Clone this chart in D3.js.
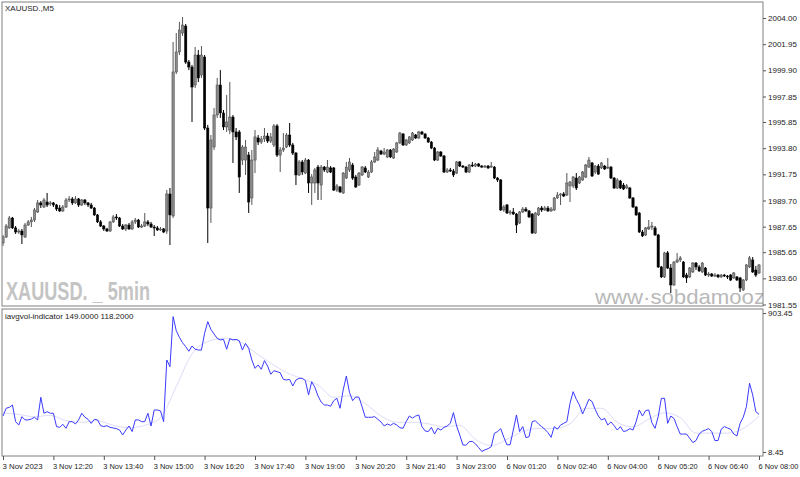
<!DOCTYPE html>
<html><head><meta charset="utf-8">
<script src="https://cdn.jsdelivr.net/npm/d3@7"></script>
<style>html,body{margin:0;padding:0;background:#fff;} svg{display:block;} text{font-family:"Liberation Sans",Arial,sans-serif;}</style>
</head><body><svg id="c" width="800" height="477"></svg>
<script>
// ---- DATA ----
const openP=[1986.37,1986.84,1987.55,1988.33,1987.55,1987.23,1987.31,1986.84,1987.78,1988.02,
1988.17,1988.80,1989.51,1989.19,1989.58,1989.43,1989.51,1989.35,1989.11,1988.88,
1989.19,1989.74,1989.82,1989.51,1989.82,1989.35,1989.74,1989.51,1989.35,1989.11,
1988.57,1988.02,1987.70,1987.47,1987.31,1988.02,1988.41,1988.33,1987.70,1987.47,
1987.78,1987.47,1988.02,1988.17,1987.62,1987.70,1988.02,1987.86,1987.62,1987.55,
1987.39,1987.47,1987.31,1990.21,1988.49,1999.77,2001.34,2002.82,2003.37,2000.55,
2000.16,1998.75,2001.10,1999.53,2000.94,1995.38,1989.11,1993.89,1996.40,1998.75,
1996.56,1995.46,1995.22,1996.24,1995.07,1995.07,1992.87,1992.87,1993.26,1989.90,
1992.87,1994.60,1994.28,1994.52,1994.75,1994.36,1994.05,1995.54,1993.26,1993.66,
1993.89,1994.83,1994.05,1993.42,1991.70,1992.72,1991.85,1992.87,1991.07,1991.07,
1992.32,1990.91,1992.32,1991.93,1992.25,1992.25,1990.52,1990.76,1990.29,1991.46,
1992.09,1992.48,1991.54,1990.91,1991.70,1992.25,1991.54,1991.93,1992.72,1992.87,
1993.58,1993.34,1993.11,1993.66,1993.03,1993.50,1994.21,1994.91,1994.05,1994.21,
1994.44,1994.83,1994.60,1995.07,1994.91,1994.60,1994.28,1993.81,1992.87,1993.50,
1993.19,1991.93,1992.09,1992.01,1991.85,1992.72,1992.40,1992.32,1991.93,1992.48,
1992.40,1992.56,1992.40,1992.32,1992.40,1992.32,1992.32,1991.46,1991.31,1988.96,
1989.35,1988.72,1988.80,1988.64,1987.94,1988.80,1989.03,1988.88,1988.64,1987.15,
1988.57,1989.11,1988.96,1989.11,1988.88,1988.96,1989.90,1990.13,1990.21,1990.13,
1990.84,1990.84,1991.46,1991.07,1991.31,1991.54,1992.32,1992.64,1991.93,1992.40,
1992.25,1992.40,1992.25,1992.32,1991.46,1990.68,1991.23,1990.91,1990.68,1990.68,
1989.90,1989.19,1988.72,1987.23,1987.00,1987.47,1987.62,1987.55,1987.00,1984.49,
1983.71,1985.59,1984.41,1983.08,1984.88,1985.04,1984.88,1983.86,1983.71,1984.10,
1984.80,1984.49,1984.10,1984.41,1983.86,1983.94,1983.78,1983.86,1983.71,1983.86,
1983.78,1983.86,1983.63,1983.71,1983.63,1982.69,1983.47,1984.49,1985.04,1984.25,
1984.02];
const highP=[1987.00,1987.86,1988.49,1988.41,1987.70,1987.47,1987.47,1987.94,1988.17,1988.41,
1989.11,1989.74,1989.66,1989.90,1990.29,1989.66,1989.58,1989.43,1989.35,1989.35,
1989.90,1990.05,1989.97,1990.05,1989.90,1989.82,1989.82,1989.58,1989.51,1989.19,
1988.64,1988.17,1987.78,1987.55,1988.09,1988.57,1988.64,1988.41,1987.86,1987.86,
1987.94,1988.17,1988.33,1988.25,1987.86,1988.72,1988.17,1988.02,1987.78,1987.70,
1987.62,1987.55,1990.52,1990.68,2002.12,2002.82,2003.69,2004.08,2003.53,2000.71,
2000.32,2001.73,2001.49,2001.80,2001.10,1995.62,1994.83,1996.95,1999.30,1999.92,
1996.79,1997.97,1998.98,1996.40,1995.38,1995.22,1994.05,1994.44,1993.50,1993.66,
1995.22,1994.83,1994.75,1995.38,1994.99,1994.99,1995.69,1995.69,1993.89,1994.99,
1994.99,1995.77,1994.21,1993.50,1992.87,1992.87,1993.03,1992.95,1991.77,1992.25,
1992.48,1992.48,1992.40,1992.87,1992.40,1992.32,1990.99,1990.84,1991.93,1992.72,
1993.03,1992.64,1991.70,1991.93,1992.40,1992.40,1992.09,1992.87,1993.50,1993.89,
1993.66,1993.81,1993.73,1993.73,1993.81,1994.28,1995.07,1994.99,1994.52,1994.75,
1995.07,1994.91,1995.15,1995.15,1994.99,1994.68,1994.36,1993.89,1993.58,1993.58,
1993.26,1992.25,1992.25,1992.17,1992.79,1992.79,1992.48,1992.40,1992.56,1992.72,
1992.64,1992.64,1992.48,1992.48,1992.48,1992.72,1992.40,1991.54,1991.38,1989.35,
1989.43,1988.96,1989.11,1988.72,1988.88,1989.19,1989.19,1988.96,1988.72,1988.80,
1989.19,1989.27,1989.27,1989.27,1989.19,1989.97,1990.37,1990.29,1990.37,1991.85,
1991.23,1991.62,1991.85,1991.62,1992.01,1992.56,1993.11,1992.72,1992.48,1992.56,
1992.72,1992.48,1993.03,1992.40,1991.54,1991.46,1991.31,1991.07,1990.99,1990.76,
1989.97,1989.27,1988.80,1987.39,1987.62,1988.17,1988.02,1987.70,1987.08,1984.57,
1985.67,1985.74,1984.72,1984.96,1985.59,1985.35,1984.96,1984.02,1984.49,1984.88,
1984.88,1984.65,1984.88,1984.49,1984.10,1984.02,1984.02,1983.94,1983.94,1983.94,
1983.86,1983.94,1984.10,1983.78,1983.71,1983.55,1984.72,1985.35,1985.27,1984.57,
1984.72];
const lowP=[1986.14,1986.76,1987.47,1987.47,1987.08,1987.08,1986.29,1986.76,1987.70,1987.62,
1988.02,1988.72,1989.11,1989.11,1989.19,1989.27,1989.19,1988.88,1988.80,1988.80,
1989.11,1989.58,1989.35,1989.43,1989.19,1989.27,1989.35,1989.19,1989.03,1988.49,
1987.94,1987.62,1987.31,1987.23,1987.23,1987.94,1988.17,1987.62,1987.39,1987.31,
1987.39,1987.39,1987.86,1987.55,1987.55,1987.62,1987.70,1987.55,1986.92,1987.31,
1987.31,1987.15,1987.08,1986.21,1988.33,1999.61,2001.10,2002.59,2000.40,1999.92,
1995.85,1998.51,1998.98,1999.30,1995.22,1986.37,1987.94,1993.66,1996.17,1996.17,
1995.22,1995.07,1994.91,1992.64,1994.44,1990.29,1992.48,1991.70,1988.72,1989.35,
1991.85,1994.05,1994.13,1994.28,1994.21,1994.21,1993.89,1993.11,1991.93,1993.50,
1993.81,1993.89,1993.26,1990.91,1991.62,1991.70,1991.77,1990.29,1989.35,1990.29,
1989.74,1989.74,1991.93,1991.85,1991.85,1990.44,1990.37,1990.29,1990.21,1991.38,
1991.93,1991.31,1990.68,1990.84,1991.62,1991.85,1991.46,1991.85,1992.64,1992.79,
1993.26,1993.26,1993.03,1993.03,1992.95,1993.42,1994.13,1993.97,1993.97,1994.13,
1994.36,1994.52,1994.52,1994.83,1994.52,1994.21,1993.73,1992.79,1992.79,1993.11,
1991.85,1991.85,1991.93,1991.54,1991.77,1992.32,1992.25,1991.85,1991.85,1992.32,
1992.32,1992.32,1992.25,1992.25,1992.17,1992.25,1991.38,1991.15,1988.88,1988.80,
1988.64,1988.57,1988.57,1987.15,1987.86,1988.72,1988.80,1988.33,1987.08,1987.08,
1988.49,1988.80,1988.88,1988.80,1988.80,1988.88,1989.82,1989.35,1989.97,1990.05,
1989.58,1990.68,1990.52,1990.99,1991.23,1991.46,1992.25,1991.54,1991.77,1991.70,
1992.17,1992.09,1992.17,1991.38,1990.60,1990.60,1990.60,1990.52,1990.60,1989.82,
1989.11,1988.49,1987.15,1986.84,1986.92,1987.39,1987.39,1986.92,1984.41,1983.63,
1983.63,1984.33,1982.45,1983.00,1984.80,1984.88,1983.63,1983.24,1983.63,1984.02,
1984.25,1984.10,1984.02,1983.78,1983.71,1983.71,1983.71,1983.63,1983.63,1983.71,
1983.55,1983.39,1983.55,1983.39,1982.53,1982.61,1983.39,1984.41,1984.02,1983.71,
1983.94];
const closeP=[1986.84,1987.70,1988.33,1987.55,1987.23,1987.31,1987.00,1987.78,1988.02,1988.17,
1988.96,1989.51,1989.35,1989.74,1989.35,1989.51,1989.35,1989.03,1988.88,1989.19,
1989.74,1989.82,1989.51,1989.82,1989.35,1989.74,1989.51,1989.35,1989.11,1988.57,
1988.02,1987.70,1987.47,1987.31,1988.02,1988.41,1988.33,1987.70,1987.47,1987.78,
1987.47,1988.02,1988.17,1987.62,1987.70,1988.02,1987.86,1987.62,1987.55,1987.39,
1987.47,1987.23,1990.21,1988.57,1999.77,2001.34,2003.06,2003.45,2000.55,2000.16,
1998.59,2001.10,1999.30,2001.10,1995.38,1989.11,1994.44,1996.40,1998.75,1996.56,
1995.46,1995.85,1996.24,1995.07,1994.68,1991.54,1993.89,1993.89,1989.58,1992.87,
1994.68,1994.28,1994.52,1994.75,1994.36,1994.68,1995.54,1993.26,1993.66,1993.81,
1994.83,1994.05,1993.42,1991.70,1992.72,1991.93,1992.87,1991.07,1991.54,1992.09,
1991.07,1992.32,1992.09,1992.32,1991.93,1990.52,1990.84,1990.37,1991.85,1992.32,
1992.72,1991.46,1990.76,1991.85,1992.32,1991.93,1991.93,1992.72,1993.11,1993.66,
1993.34,1993.50,1993.66,1993.11,1993.73,1994.21,1994.99,1994.05,1994.44,1994.68,
1994.99,1994.60,1995.07,1994.91,1994.60,1994.28,1993.81,1992.87,1993.50,1993.19,
1991.93,1992.09,1992.01,1991.70,1992.72,1992.40,1992.32,1991.93,1992.48,1992.40,
1992.56,1992.40,1992.32,1992.40,1992.25,1992.40,1991.46,1991.31,1988.96,1989.19,
1988.72,1988.80,1988.64,1987.78,1988.80,1989.03,1988.88,1988.41,1987.15,1988.72,
1989.11,1988.96,1989.11,1988.88,1989.03,1989.90,1990.13,1990.21,1990.05,1991.07,
1991.15,1991.54,1990.68,1991.54,1991.93,1992.48,1992.87,1991.62,1992.40,1991.77,
1992.64,1992.17,1992.32,1991.46,1990.68,1991.31,1990.68,1990.60,1990.84,1989.90,
1989.19,1988.57,1987.23,1986.92,1987.55,1987.62,1987.70,1987.00,1984.49,1983.71,
1985.59,1984.41,1983.08,1984.88,1985.04,1985.20,1983.71,1983.63,1984.41,1984.80,
1984.49,1984.18,1984.80,1983.86,1983.94,1983.78,1983.86,1983.71,1983.86,1983.78,
1983.71,1983.47,1984.02,1983.47,1982.84,1983.47,1984.65,1985.20,1984.10,1983.86,
1984.65];
const volume=[240,290,296,311,204,182,236,215,215,221,
232,215,361,258,268,258,258,172,167,187,
161,204,204,189,215,258,232,219,193,219,
215,178,172,178,167,163,159,150,118,150,
176,140,215,215,204,204,258,176,279,279,
273,204,601,558,880,790,747,712,687,657,
691,670,665,665,773,848,798,768,740,730,
734,670,738,730,734,725,665,708,676,601,
547,569,541,597,562,509,532,526,519,476,
472,476,434,472,483,483,468,376,461,425,
369,330,311,311,303,339,354,290,408,498,
391,339,363,361,300,232,232,232,236,219,
202,176,189,180,193,182,165,161,204,240,
227,240,247,172,144,140,167,124,161,150,
167,176,193,262,176,118,54,52,75,77,
60,37,12,22,30,43,129,140,159,103,
54,56,150,247,140,172,101,107,204,210,
189,172,155,133,103,172,155,182,193,204,
322,397,348,311,253,300,348,333,283,240,
215,225,182,202,178,150,172,140,146,159,
150,204,279,240,275,279,197,161,236,354,
354,193,240,225,172,124,124,124,97,69,
82,124,142,150,159,140,82,82,155,172,
163,155,124,112,193,232,300,451,376,268,
251];
const maBars=[0,5,10,15,20,25,30,35,40,45,50,55,60,65,70,75,80,85,90,95,100,105,110,115,120,125,130,135,140,145,150,155,160,165,170,175,180,185,190,195,200,205,210,215,220,225,230,235,240];
const maVals=[260,250,235,245,210,200,210,180,165,180,230,430,640,720,740,720,650,580,520,480,440,360,370,320,240,200,200,190,170,180,90,50,90,140,160,160,190,290,290,200,170,220,260,230,130,130,130,160,240];
const priceTicks=[2004.00,2001.95,1999.90,1997.85,1995.85,1993.80,1991.75,1989.70,1987.65,1985.65,1983.60,1981.55];
const volTicks=[903.45,8.45];
const timeTickBars=[0,16,32,48,64,80,96,112,128,144,160,176,192,208,224,240];
const timeLabels=["3 Nov 2023","3 Nov 12:20","3 Nov 13:40","3 Nov 15:00","3 Nov 16:20","3 Nov 17:40","3 Nov 19:00","3 Nov 20:20","3 Nov 21:40","3 Nov 23:00","6 Nov 01:20","6 Nov 02:40","6 Nov 04:00","6 Nov 05:20","6 Nov 06:40","6 Nov 08:00"];

// ---- CHART ----
const svg=d3.select("#c");
const L=2,R=763,mTop=2,mBot=306,iTop=309,iBot=456;
const x=d3.scaleLinear().domain([0,240]).range([3,759]);
const y=d3.scaleLinear().domain([1981.55,2004.00]).range([304.5,18]);
const yv=d3.scaleLinear().domain([8.45,903.45]).range([452,313]);

const defs=svg.append("defs");
defs.append("clipPath").attr("id","cm").append("rect").attr("x",L).attr("y",mTop).attr("width",R-L).attr("height",mBot-mTop);
defs.append("clipPath").attr("id","ci").append("rect").attr("x",L).attr("y",iTop).attr("width",R-L).attr("height",iBot-iTop);

// watermarks
const wm=svg.append("g").attr("clip-path","url(#cm)");
wm.append("text").attr("x",6).attr("y",300).attr("font-size",25).attr("font-weight","bold")
  .attr("fill","#c4c4c4").attr("textLength",144).attr("lengthAdjust","spacingAndGlyphs").text("XAUUSD. _ 5min");
wm.append("text").attr("x",595).attr("y",304).attr("font-size",21)
  .attr("fill","#b8b8b8").attr("textLength",170).attr("lengthAdjust","spacingAndGlyphs").text("www·sobdamooz");

// candles
const data=openP.map((o,i)=>({i,o,h:highP[i],l:lowP[i],c:closeP[i]}));
const cg=svg.append("g").attr("clip-path","url(#cm)");
const bw=2.3;
cg.selectAll("line.w").data(data).join("line").attr("class","w")
  .attr("x1",d=>x(d.i)).attr("x2",d=>x(d.i)).attr("y1",d=>y(d.h)).attr("y2",d=>y(d.l))
  .attr("stroke",d=>d.c>=d.o?"#555":"#000").attr("stroke-width",1);
cg.selectAll("rect.b").data(data).join("rect").attr("class","b")
  .attr("x",d=>x(d.i)-bw/2).attr("width",bw)
  .attr("y",d=>y(Math.max(d.o,d.c))).attr("height",d=>Math.max(1,Math.abs(y(d.o)-y(d.c))))
  .attr("fill",d=>d.c>=d.o?"#8a8a8a":"#000")
  .attr("stroke",d=>d.c>=d.o?"#444":"#000").attr("stroke-width",0.5);

// indicator
const ig=svg.append("g").attr("clip-path","url(#ci)");
ig.append("path").datum(maBars.map((b,k)=>[b,maVals[k]]))
  .attr("d",d3.line().x(d=>x(d[0])).y(d=>yv(d[1])).curve(d3.curveMonotoneX))
  .attr("fill","none").attr("stroke","#dcdcf8").attr("stroke-width",1);
ig.append("path").datum(volume)
  .attr("d",d3.line().x((d,i)=>x(i)).y(d=>yv(d)))
  .attr("fill","none").attr("stroke","#3a3aff").attr("stroke-width",1);

// frames
svg.append("rect").attr("x",L).attr("y",mTop).attr("width",R-L).attr("height",mBot-mTop).attr("fill","none").attr("stroke","#808080");
svg.append("rect").attr("x",L).attr("y",iTop).attr("width",R-L).attr("height",iBot-iTop).attr("fill","none").attr("stroke","#808080");

// axes
function styleAxis(g){g.select(".domain").remove();g.selectAll("line").attr("stroke","#555");g.selectAll("text").attr("fill","#222").attr("font-size",8).attr("font-family","Liberation Sans, Arial, sans-serif");}
svg.append("g").attr("transform",`translate(${R},0)`)
  .call(d3.axisRight(y).tickValues(priceTicks).tickFormat(d3.format(".2f")).tickSize(3).tickPadding(2)).call(styleAxis);
svg.append("g").attr("transform",`translate(${R},0)`)
  .call(d3.axisRight(yv).tickValues(volTicks).tickFormat(d3.format(".2f")).tickSize(3).tickPadding(2)).call(styleAxis);
const xa=svg.append("g").attr("transform",`translate(0,${iBot})`)
  .call(d3.axisBottom(x).tickValues(timeTickBars).tickFormat((d,k)=>timeLabels[k]).tickSize(4).tickPadding(2)).call(styleAxis);
xa.selectAll("text").attr("text-anchor","start").attr("dx",-1).attr("dy","0.9em")
  .attr("font-size",7.6).attr("textLength",40).attr("lengthAdjust","spacingAndGlyphs");

// titles
svg.append("text").attr("x",5).attr("y",11).attr("font-size",8).attr("fill","#222").text("XAUUSD.,M5");
svg.append("text").attr("x",5).attr("y",319).attr("font-size",8).attr("fill","#222").text("iavgvol-indicator 149.0000 118.2000");
</script></body></html>
